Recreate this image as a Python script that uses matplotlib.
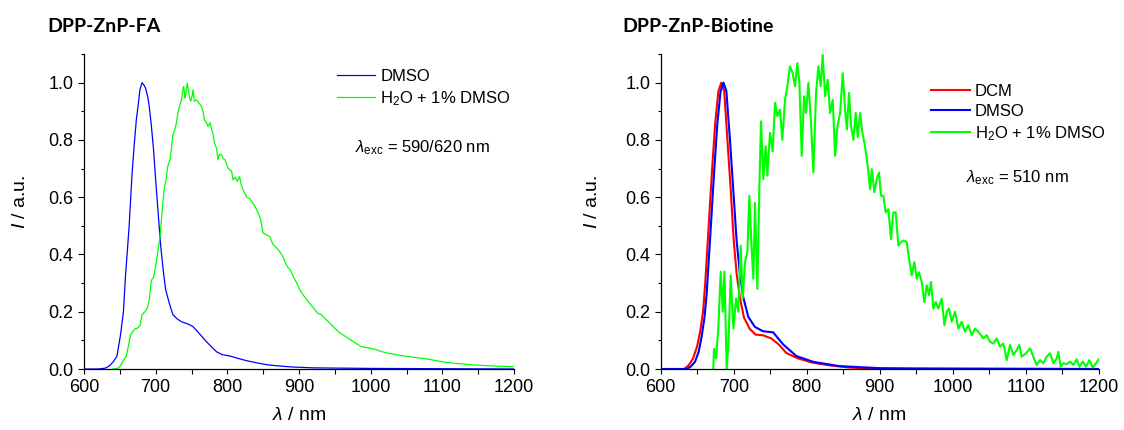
import matplotlib
matplotlib.use('Agg')
import matplotlib.pyplot as plt
from matplotlib.ticker import MultipleLocator
import numpy as np

plt.rcParams['font.family'] = ['Liberation Sans', 'DejaVu Sans']
plt.rcParams['mathtext.fontset'] = 'custom'
plt.rcParams['mathtext.rm'] = 'Liberation Sans'
plt.rcParams['mathtext.it'] = 'Liberation Sans:italic'
plt.rcParams['mathtext.bf'] = 'Liberation Sans:bold'

# ---- left panel: DPP-ZnP-FA ----
fa_dmso_x = [600, 620, 630, 636, 641, 646, 651, 655, 658, 661, 663, 667, 670, 673, 676, 678, 681, 684, 686,
             689, 691, 694, 697, 700, 703, 707, 711, 714, 719, 724, 730, 736, 742, 747, 752, 757, 764, 771,
             778, 785, 793, 804, 815, 827, 840, 855, 870, 890, 920, 960, 1000, 1100, 1200]
fa_dmso_y = [0, 0, 0.003, 0.012, 0.026, 0.045, 0.12, 0.2, 0.33, 0.43, 0.5, 0.68, 0.78, 0.87, 0.93, 0.975,
             1.0, 0.99, 0.98, 0.95, 0.917, 0.85, 0.766, 0.66, 0.56, 0.43, 0.335, 0.276, 0.23, 0.19, 0.175,
             0.165, 0.16, 0.155, 0.148, 0.135, 0.115, 0.095, 0.077, 0.06, 0.05, 0.045, 0.037, 0.029, 0.022,
             0.015, 0.011, 0.007, 0.004, 0.003, 0.002, 0.001, 0]

fa_h2o_x = [640, 648, 651, 655, 659, 662, 665, 668, 671, 674, 678, 681, 685, 688, 691, 694, 697, 700, 703,
            706, 708, 710, 712, 715, 717, 720, 722, 724, 727, 729, 731, 734, 736, 738, 739, 741, 742, 744,
            746, 747, 749, 751, 752, 754, 757, 760, 764, 766, 768, 771, 773, 776, 778, 780, 782, 785, 787,
            789, 792, 794, 797, 799, 801, 804, 806, 808, 811, 814, 817, 820, 823, 827, 831, 834, 838, 841,
            846, 850, 855, 859, 864, 868, 873, 878, 883, 888, 892, 897, 901, 906, 911, 916, 920, 926, 931,
            937, 943, 949, 955, 962, 969, 978, 987, 996, 1006, 1015, 1024, 1036, 1048, 1062, 1076, 1092,
            1108, 1126, 1145, 1160, 1175, 1188, 1200]
fa_h2o_y = [0, 0.003, 0.012, 0.03, 0.045, 0.08, 0.12, 0.13, 0.14, 0.142, 0.15, 0.19, 0.2, 0.21, 0.24, 0.31,
            0.32, 0.36, 0.41, 0.46, 0.52, 0.58, 0.63, 0.67, 0.71, 0.73, 0.77, 0.818, 0.838, 0.86, 0.894, 0.925,
            0.94, 0.975, 0.987, 0.946, 0.96, 0.999, 0.97, 0.95, 0.935, 0.955, 0.975, 0.935, 0.94, 0.93, 0.917,
            0.9, 0.87, 0.86, 0.847, 0.86, 0.836, 0.82, 0.789, 0.77, 0.73, 0.75, 0.748, 0.735, 0.73, 0.715, 0.7,
            0.695, 0.69, 0.66, 0.67, 0.655, 0.672, 0.637, 0.62, 0.6, 0.595, 0.585, 0.57, 0.556, 0.527, 0.474,
            0.468, 0.463, 0.434, 0.425, 0.41, 0.39, 0.36, 0.345, 0.323, 0.3, 0.276, 0.258, 0.241, 0.225, 0.214,
            0.195, 0.19, 0.175, 0.16, 0.145, 0.13, 0.118, 0.107, 0.092, 0.078, 0.074, 0.069, 0.061, 0.055,
            0.05, 0.045, 0.04, 0.036, 0.029, 0.022, 0.018, 0.014, 0.012, 0.01, 0.009, 0.008]

# ---- right panel: DPP-ZnP-Biotine ----
bio_dcm_x = [600, 632, 638, 644, 650, 654, 658, 661, 664.5, 670, 674.5, 679, 683, 687, 691.5, 696, 700,
             704, 708.5, 714, 722, 730, 740, 752, 762, 772, 788, 808, 833, 860, 900, 1200]
bio_dcm_y = [0, 0, 0.012, 0.035, 0.08, 0.13, 0.2, 0.3, 0.448, 0.68, 0.854, 0.97, 1.0, 0.97, 0.796, 0.622,
             0.45, 0.333, 0.25, 0.18, 0.14, 0.12, 0.118, 0.106, 0.085, 0.056, 0.037, 0.022, 0.012, 0.005, 0, 0]

bio_dmso_x = [600, 636, 641, 647, 652, 656, 660, 663, 667.5, 673, 677.5, 682, 686, 690, 695, 699.5, 704,
              708.5, 713, 720, 729, 740, 754, 768, 786, 809, 845, 900, 950, 1200]
bio_dmso_y = [0, 0, 0.008, 0.025, 0.06, 0.112, 0.18, 0.263, 0.448, 0.68, 0.854, 0.97, 1.0, 0.97, 0.796,
              0.622, 0.448, 0.333, 0.251, 0.182, 0.147, 0.132, 0.128, 0.085, 0.045, 0.025, 0.01, 0.003, 0.002, 0]

bio_h2o_x = [672, 673, 675.8, 678.9, 682.2, 685, 687.3, 690.4, 692.7, 695.9, 699.6, 703.2, 706.4, 709.6,
             712.3, 715.5, 718.7, 721.4, 724.6, 726.9, 729.2, 732.4, 735.1, 737.4, 740.6, 743.8, 746.1,
             749.7, 753.4, 756.6, 759.8, 763.4, 766.6, 770.3, 773.5, 777.1, 780.8, 784, 787.2, 790, 793.2,
             796.3, 799.1, 802.3, 805.9, 809.1, 812.8, 816, 819.2, 821.9, 825.2, 828.8, 832, 835.7, 838.9,
             842.1, 845.8, 849.4, 852.6, 855, 858, 860.8, 864, 867.1, 869.9, 873.1, 876.3, 879.9, 883.6,
             886.8, 889.1, 892.7, 895.9, 899.1, 901.8, 905, 908.2, 911.9, 915.5, 918.7, 921.9, 925.6, 929.2,
             932.9, 937, 940.2, 943.8, 947.5, 950.7, 953.9, 957.5, 961.2, 964.4, 967.6, 970.3, 973.5, 976.7,
             980.4, 985, 988.6, 991.8, 995, 998.6, 1003.2, 1007.8, 1012.3, 1016.9, 1021.5, 1026, 1030.6,
             1035.2, 1042, 1046.6, 1051.1, 1055.7, 1060.3, 1064.8, 1069.4, 1074, 1078.5, 1083.1, 1087.6,
             1091.3, 1094.5, 1100.5, 1106, 1110.5, 1115, 1119.6, 1124.2, 1128.7, 1133.3, 1137.9, 1142.5,
             1144.7, 1147.9, 1151.6, 1156.2, 1160.7, 1165.3, 1169.9, 1173.5, 1178.1, 1182.6, 1187.2,
             1191.8, 1196.3, 1200]
bio_h2o_y = [0.0, 0.07, 0.037, 0.141, 0.34, 0.2, 0.34, 0.0, 0.083, 0.327, 0.141, 0.246, 0.2, 0.431, 0.246,
             0.373, 0.408, 0.605, 0.42, 0.315, 0.58, 0.28, 0.628, 0.865, 0.663, 0.778, 0.675, 0.825, 0.76,
             0.93, 0.883, 0.906, 0.8, 0.94, 0.987, 1.057, 1.033, 0.987, 1.068, 0.999, 0.744, 0.952, 0.894,
             0.999, 0.86, 0.686, 0.964, 1.057, 0.987, 1.097, 0.952, 1.01, 0.894, 0.94, 0.744, 0.848, 0.894,
             1.033, 0.906, 0.836, 0.964, 0.848, 0.8, 0.894, 0.81, 0.894, 0.825, 0.778, 0.709, 0.628, 0.698,
             0.617, 0.663, 0.686, 0.605, 0.605, 0.547, 0.558, 0.454, 0.547, 0.547, 0.431, 0.443, 0.449,
             0.443, 0.385, 0.327, 0.373, 0.315, 0.338, 0.304, 0.234, 0.292, 0.258, 0.304, 0.211, 0.234,
             0.211, 0.246, 0.153, 0.2, 0.211, 0.165, 0.2, 0.141, 0.165, 0.13, 0.153, 0.118, 0.141, 0.13,
             0.107, 0.118, 0.095, 0.089, 0.107, 0.078, 0.089, 0.031, 0.084, 0.049, 0.066, 0.084, 0.043,
             0.055, 0.072, 0.043, 0.014, 0.031, 0.02, 0.043, 0.055, 0.02, 0.037, 0.06, 0.008, 0.02, 0.017,
             0.026, 0.014, 0.034, 0.008, 0.026, 0.008, 0.031, 0.005, 0.02, 0.034]

fig = plt.figure(figsize=(11.24, 4.30), dpi=100)
ax1 = fig.add_axes([84 / 1124, 61 / 430, 430 / 1124, 315 / 430])
ax2 = fig.add_axes([660.7 / 1124, 61 / 430, 438 / 1124, 315 / 430])

ax1.plot(fa_dmso_x, fa_dmso_y, color='#0000ff', lw=0.9, label='DMSO')
ax1.plot(fa_h2o_x, fa_h2o_y, color='#00ff00', lw=0.9, label='H$_2$O + 1% DMSO')

ax2.plot(bio_dcm_x, bio_dcm_y, color='#ff0000', lw=1.5, label='DCM')
ax2.plot(bio_dmso_x, bio_dmso_y, color='#0000ff', lw=1.5, label='DMSO')
ax2.plot(bio_h2o_x, bio_h2o_y, color='#00ff00', lw=1.5, label='H$_2$O + 1% DMSO')

for ax in (ax1, ax2):
    ax.set_xlim(600, 1200)
    ax.set_ylim(0, 1.1)
    ax.xaxis.set_major_locator(MultipleLocator(100))
    ax.xaxis.set_minor_locator(MultipleLocator(50))
    ax.yaxis.set_major_locator(MultipleLocator(0.2))
    ax.yaxis.set_minor_locator(MultipleLocator(0.1))
    ax.yaxis.set_major_formatter(matplotlib.ticker.FormatStrFormatter('%.1f'))
    for s in ('top', 'right'):
        ax.spines[s].set_visible(False)
    for s in ('left', 'bottom'):
        ax.spines[s].set_linewidth(0.9)
    ax.tick_params(axis='x', which='both', direction='out', length=3.5, width=0.8, labelsize=13, pad=4)
    ax.tick_params(axis='y', which='major', direction='out', length=4.5, width=0.8, labelsize=13, pad=3)
    ax.tick_params(axis='y', which='minor', direction='out', length=2.5, width=0.8)
    ax.set_xlabel(r'$\lambda$ / nm', fontsize=14)
    ax.set_ylabel(r'$I$ / a.u.', fontsize=14)
    ax.xaxis.set_label_coords(0.5, -0.12)
    ax.legend(loc='upper left', frameon=False, fontsize=12, borderpad=0, borderaxespad=0,
              handlelength=2.3, handletextpad=0.3, labelspacing=0.3)

ax1.yaxis.set_label_coords(-0.128, 0.53)
ax2.yaxis.set_label_coords(-0.136, 0.53)
ax1.get_legend().set_bbox_to_anchor((0.588, 0.952))
ax2.get_legend().set_bbox_to_anchor((0.618, 0.905))

ax1.text(0.630, 0.702, r'$\lambda_{\rm exc}$ = 590/620 nm', transform=ax1.transAxes, fontsize=12, va='center')
ax2.text(0.696, 0.607, r'$\lambda_{\rm exc}$ = 510 nm', transform=ax2.transAxes, fontsize=12, va='center')

fig.text(47 / 1124, 1 - 32 / 430, 'DPP-ZnP-FA', family=['Lato', 'DejaVu Sans'], fontweight='bold',
         fontsize=14, va='baseline')
fig.text(622 / 1124, 1 - 32 / 430, 'DPP-ZnP-Biotine', family=['Lato', 'DejaVu Sans'], fontweight='bold',
         fontsize=14, va='baseline')

fig.savefig('out.png', dpi=100)
